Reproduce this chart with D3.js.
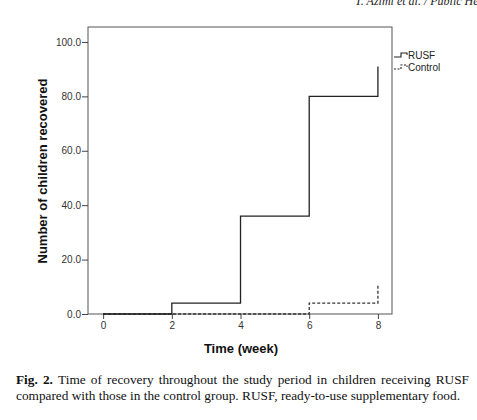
<!DOCTYPE html>
<html><head><meta charset="utf-8">
<script src="https://cdn.jsdelivr.net/npm/d3@7"></script>
<style>body{margin:0;background:#fff}svg{display:block}</style>
</head><body>
<script>
const weeks = [0, 2, 4, 6, 8];
const rusfValues = [0, 4, 36, 80, 91];
const controlValues = [0, 0, 0, 4, 11];
const yTicks = [0, 20, 40, 60, 80, 100];
const xTicks = [0, 2, 4, 6, 8];
const seriesNames = ["RUSF", "Control"];
const captionLines = [
  [{t:"Fig. 2.", b:true}, {t:"Time of recovery throughout the study period in children receiving RUSF"}],
  [{t:"compared with those in the control group. RUSF, ready-to-use supplementary food."}]
];

const W = 477, H = 420;
const svg = d3.select("body").append("svg").attr("width", W).attr("height", H);

const x = d3.scaleLinear().domain([-0.44, 8.41]).range([88, 392]);
const y = d3.scaleLinear().domain([0, 105.5]).range([314, 27]);

// header (cut off by the page edge in the reference)
svg.append("text").attr("x", 355).attr("y", 5)
  .attr("font-family", "Liberation Serif").attr("font-style", "italic").attr("font-size", 12)
  .attr("fill", "#222").text("T. Azimi et al. / Public Health");

// plot box
svg.append("rect").attr("x", x.range()[0]).attr("y", y.range()[1])
  .attr("width", x.range()[1] - x.range()[0]).attr("height", y.range()[0] - y.range()[1])
  .attr("fill", "none").attr("stroke", "#555").attr("stroke-width", 1);

// y axis
const yAxis = d3.axisLeft(y).tickValues(yTicks).tickFormat(d3.format(".1f")).tickSize(6).tickPadding(1);
const gy = svg.append("g").attr("transform", `translate(${x.range()[0]},0)`).call(yAxis);
gy.select(".domain").remove();
gy.selectAll("line").attr("stroke", "#444");
gy.selectAll("text").attr("font-family", "Liberation Sans").attr("font-size", 10).attr("fill", "#333");

// x axis
const xAxis = d3.axisBottom(x).tickValues(xTicks).tickFormat(d3.format("d")).tickSize(5).tickPadding(3);
const gx = svg.append("g").attr("transform", `translate(0,${y.range()[0]})`).call(xAxis);
gx.select(".domain").remove();
gx.selectAll("line").attr("stroke", "#444");
gx.selectAll("text").attr("font-family", "Liberation Sans").attr("font-size", 10).attr("fill", "#333");

// axis titles
svg.append("text").attr("x", 241).attr("y", 353).attr("text-anchor", "middle")
  .attr("font-family", "Liberation Sans").attr("font-weight", "bold").attr("font-size", 13)
  .attr("fill", "#111").text("Time (week)");
svg.append("text").attr("transform", "translate(47,171) rotate(-90)").attr("text-anchor", "middle")
  .attr("font-family", "Liberation Sans").attr("font-weight", "bold").attr("font-size", 13)
  .attr("fill", "#111").text("Number of children recovered");

// lines
const line = d3.line().x(d => x(d[0])).y(d => y(d[1])).curve(d3.curveStepAfter);
svg.append("path").datum(weeks.map((w, i) => [w, controlValues[i]]))
  .attr("d", line).attr("fill", "none").attr("stroke", "#333").attr("stroke-width", 1.3)
  .attr("stroke-dasharray", "3,2");
svg.append("path").datum(weeks.map((w, i) => [w, rusfValues[i]]))
  .attr("d", line).attr("fill", "none").attr("stroke", "#222").attr("stroke-width", 1.3);

// legend
const lg = svg.append("g");
seriesNames.forEach((name, i) => {
  const yy = 57 + i * 12;
  const sym = d3.line()([[394, yy], [401, yy], [401, yy - 4], [407, yy - 4], [407, yy - 2]]);
  lg.append("path").attr("d", sym).attr("fill", "none").attr("stroke", "#222").attr("stroke-width", 1.1)
    .attr("stroke-dasharray", i === 1 ? "2,1.5" : null);
  lg.append("text").attr("x", 408).attr("y", yy + 2).attr("font-family", "Liberation Sans")
    .attr("font-size", 10).attr("fill", "#222").text(name);
});

// caption (justified first line)
const capFont = 13.3;
const capG = svg.append("g").attr("font-family", "Liberation Serif").attr("font-size", capFont).attr("fill", "#111");
const capLeft = 16, capRight = 469, capY = [384, 400];
captionLines.forEach((segs, li) => {
  const words = [];
  segs.forEach(s => s.t.split(" ").forEach(w => words.push({t: w, b: !!s.b})));
  const nodes = words.map(w => capG.append("text").attr("y", capY[li])
    .attr("font-weight", w.b ? "bold" : "normal").text(w.t));
  const widths = nodes.map(n => n.node().getComputedTextLength());
  const total = d3.sum(widths);
  const natSpace = capFont * 0.25;
  const space = li === 0 ? (capRight - capLeft - total) / (words.length - 1) : natSpace;
  let cx = capLeft;
  nodes.forEach((n, i) => { n.attr("x", cx); cx += widths[i] + space; });
});
</script>
</body></html>
